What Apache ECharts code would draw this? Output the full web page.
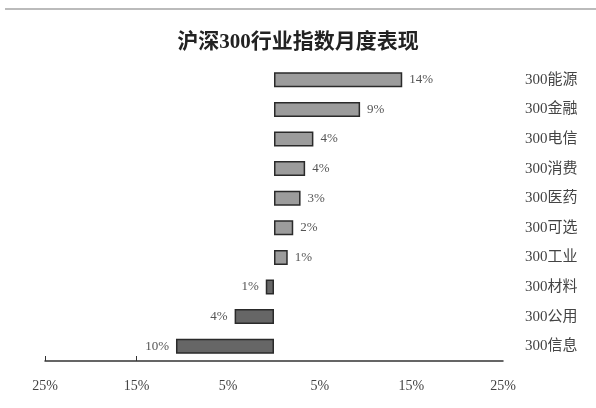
<!DOCTYPE html>
<html>
<head>
<meta charset="utf-8">
<script src="https://cdn.jsdelivr.net/npm/echarts@6/dist/echarts.min.js"></script>
<style>html,body{margin:0;padding:0;background:#fff}#c{width:596px;height:408px}</style>
</head>
<body>
<div id="c"></div>
<script>
var titleText = '沪深300行业指数月度表现';
var categories = ['300能源','300金融','300电信','300消费','300医药','300可选','300工业','300材料','300公用','300信息'];
var values = [14.0, 9.4, 4.3, 3.4, 2.9, 2.1, 1.5, -0.9, -4.3, -10.7];
var valueLabels = ['14%','9%','4%','4%','3%','2%','1%','1%','4%','10%'];
var xTicks = [-25, -15, -5, 5, 15, 25];
var markedTicks = [-25, -15];

var FONT = "'Liberation Serif','Noto Sans CJK SC',serif";
var chart = echarts.init(document.getElementById('c'));
chart.setOption({
  backgroundColor: '#fff',
  animation: false,
  title: {
    text: titleText, left: 'center', top: 27,
    textStyle: {fontFamily: FONT, fontSize: 21, fontWeight: 'bold', color: '#222'}
  },
  graphic: [{type: 'line', shape: {x1: 5, y1: 9, x2: 596, y2: 9}, style: {stroke: '#bbb', lineWidth: 2}}],
  grid: {left: 45, right: 93, top: 65, bottom: 47},
  xAxis: {
    type: 'value', min: -25, max: 25, interval: 10,
    splitLine: {show: false},
    axisLine: {show: true, onZero: false, lineStyle: {color: '#333', width: 1.5}},
    axisTick: {show: true, inside: true, length: 5, customValues: markedTicks, lineStyle: {color: '#333'}},
    axisLabel: {
      margin: 18, color: '#444', fontFamily: FONT, fontSize: 14,
      formatter: function (v) { return xTicks.indexOf(v) >= 0 ? Math.abs(v) + '%' : ''; }
    }
  },
  yAxis: {
    type: 'category', data: categories, inverse: true, position: 'right',
    axisLine: {show: false}, axisTick: {show: false},
    axisLabel: {margin: 22, color: '#444', fontFamily: FONT, fontSize: 15, align: 'left'}
  },
  series: [{
    type: 'bar', barWidth: 15,
    data: values.map(function (v, i) {
      return {
        value: v,
        itemStyle: {color: v >= 0 ? '#9c9c9c' : '#666666', borderColor: '#2a2a2a', borderWidth: 1.5},
        label: {position: v >= 0 ? 'right' : 'left'}
      };
    }),
    label: {
      show: true, distance: 7, color: '#555', fontFamily: FONT, fontSize: 13,
      formatter: function (p) { return valueLabels[p.dataIndex]; }
    }
  }]
});
</script>
</body>
</html>
